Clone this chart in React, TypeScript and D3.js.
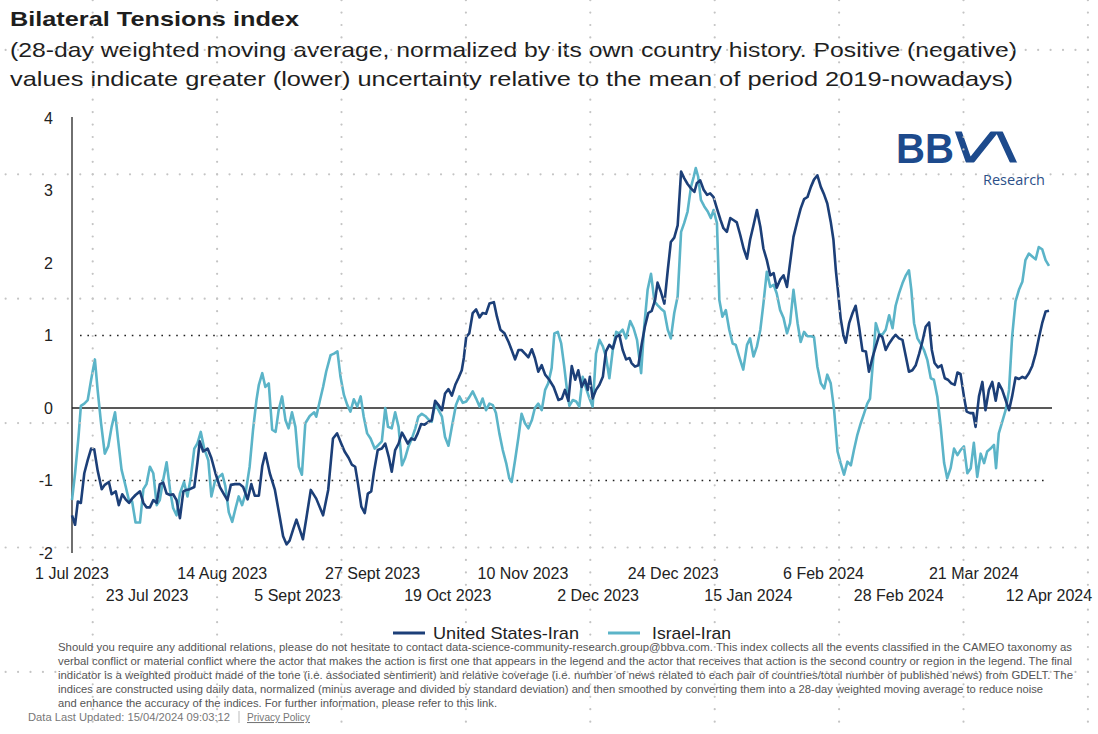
import React from "react";
import * as d3 from "d3";

// ---------- DATA (day offset from 1 Jul 2023, index value) ----------
const usIran: [number, number][] = [
  [0, -1.48], [0.9, -1.61], [1.7, -1.29], [2.6, -1.31], [3.6, -0.9], [4.6, -0.72], [5.6, -0.56], [6.5, -0.57],
  [7.5, -0.86], [8.7, -1.12], [9.6, -1.06], [10.8, -1.02], [11.6, -1.19], [12.8, -1.15], [13.7, -1.34], [14.7, -1.19],
  [15.7, -1.26], [16.7, -1.31], [17.6, -1.25], [18.6, -1.2], [19.9, -1.15], [20.9, -1.31], [21.8, -1.37], [22.8, -1.37],
  [23.8, -1.27], [24.8, -1.31], [25.7, -1.05], [26.7, -1.03], [27.7, -1.18], [28.7, -1.2], [29.6, -1.19], [30.6, -1.27],
  [31.6, -1.52], [32.6, -1.15], [33.5, -1.13], [34.5, -1.12], [35.8, -1.09], [36.7, -0.76], [37.4, -0.46], [38.4, -0.6],
  [39.7, -0.56], [40.8, -0.69], [42.0, -0.9], [43.3, -1.09], [44.5, -1.19], [45.5, -1.27], [46.5, -1.06], [47.7, -1.05],
  [49.1, -1.05], [50.1, -1.09], [51.4, -1.26], [52.5, -1.05], [53.5, -1.21], [54.7, -1.21], [55.7, -0.8], [56.6, -0.62],
  [57.9, -0.9], [59.4, -1.13], [60.8, -1.5], [61.8, -1.77], [62.8, -1.88], [63.7, -1.83], [64.7, -1.68], [65.7, -1.54],
  [66.7, -1.68], [67.6, -1.81], [68.6, -1.52], [69.9, -1.13], [71.5, -1.25], [73.5, -1.48], [75.0, -1.13], [76.4, -0.42],
  [77.6, -0.35], [78.8, -0.49], [79.8, -0.6], [81.0, -0.69], [81.9, -0.78], [82.9, -0.81], [83.7, -1.04], [84.7, -1.36],
  [85.7, -1.45], [86.6, -1.18], [87.6, -1.15], [88.4, -0.88], [89.5, -0.58], [90.7, -0.56], [91.7, -0.49], [92.7, -0.67],
  [93.6, -0.88], [94.6, -0.58], [95.6, -0.49], [96.6, -0.34], [97.3, -0.4], [98.3, -0.49], [99.3, -0.42], [100.3, -0.44],
  [101.2, -0.35], [102.2, -0.22], [103.2, -0.23], [104.4, -0.19], [105.3, -0.17], [106.3, 0.1], [107.3, 0.04], [108.3, -0.03],
  [109.2, 0.2], [110.2, 0.26], [111.2, 0.17], [112.2, 0.32], [113.1, 0.41], [114.1, 0.52], [114.7, 0.69], [115.4, 0.98],
  [116.3, 1.03], [117.3, 1.31], [118.3, 1.36], [119.3, 1.25], [120.2, 1.31], [121.2, 1.3], [122.2, 1.44], [123.5, 1.46],
  [124.4, 1.26], [125.4, 1.08], [126.6, 1.03], [127.8, 0.91], [128.7, 0.8], [129.7, 0.67], [130.7, 0.8], [131.6, 0.8],
  [132.6, 0.75], [133.6, 0.7], [134.6, 0.81], [135.5, 0.69], [136.5, 0.5], [137.5, 0.59], [138.5, 0.46], [139.7, 0.39],
  [141.0, 0.29], [142.4, 0.11], [143.4, 0.13], [144.3, 0.25], [145.3, 0.1], [146.3, 0.58], [147.3, 0.39], [148.2, 0.52],
  [149.2, 0.29], [150.2, 0.39], [151.0, 0.25], [151.6, 0.43], [152.4, 0.13], [153.4, 0.25], [154.4, 0.32], [155.4, 0.43],
  [156.3, 0.78], [157.3, 0.87], [158.3, 0.82], [159.3, 0.98], [160.2, 1.01], [161.2, 0.8], [162.2, 0.67], [163.2, 0.69],
  [163.8, 0.62], [164.8, 0.57], [165.8, 0.59], [166.8, 0.89], [167.7, 1.12], [168.7, 1.31], [169.7, 1.34], [170.7, 1.49],
  [171.4, 1.73], [172.4, 1.6], [173.4, 1.44], [174.4, 1.9], [175.3, 2.29], [176.3, 2.35], [177.3, 2.52], [178.3, 3.26],
  [179.2, 3.17], [180.2, 3.09], [181.2, 3.03], [182.2, 2.98], [182.9, 3.1], [183.9, 3.14], [184.9, 3.01], [185.9, 2.94],
  [186.8, 2.96], [187.8, 2.91], [188.8, 2.75], [189.8, 2.6], [190.7, 2.48], [191.7, 2.43], [192.7, 2.62], [193.7, 2.59],
  [194.6, 2.56], [195.6, 2.39], [196.6, 2.2], [197.6, 2.06], [198.5, 2.32], [199.5, 2.52], [200.5, 2.73], [201.5, 2.5],
  [202.4, 2.2], [203.4, 2.04], [204.4, 1.83], [205.4, 1.86], [206.3, 1.66], [207.3, 1.77], [208.3, 1.83], [209.3, 1.67],
  [210.2, 2.0], [211.2, 2.36], [212.4, 2.59], [213.3, 2.75], [214.3, 2.88], [215.3, 2.91], [216.3, 3.05], [217.2, 3.15],
  [218.2, 3.21], [219.2, 3.05], [220.2, 2.94], [221.1, 2.82], [222.1, 2.57], [222.9, 2.32], [223.6, 1.9], [224.3, 1.58],
  [225.0, 1.24], [225.8, 1.01], [226.5, 0.9], [227.5, 1.17], [228.5, 1.31], [229.4, 1.41], [230.4, 1.12], [231.4, 0.79],
  [232.4, 0.78], [233.3, 0.5], [234.3, 0.69], [235.3, 0.85], [236.3, 1.01], [237.2, 0.98], [238.2, 0.8], [239.2, 0.89],
  [240.2, 0.96], [241.1, 1.01], [242.1, 0.96], [243.1, 0.94], [244.1, 0.71], [245.0, 0.5], [246.0, 0.52], [247.0, 0.59],
  [248.0, 0.75], [248.9, 0.91], [249.9, 1.12], [250.9, 1.18], [251.7, 0.8], [252.5, 0.62], [253.5, 0.56], [254.5, 0.59],
  [255.5, 0.41], [256.4, 0.39], [257.4, 0.34], [258.4, 0.32], [259.2, 0.49], [260.1, 0.47], [261.1, 0.16], [261.9, -0.05],
  [262.9, -0.07], [263.8, -0.07], [264.5, -0.26], [265.5, 0.16], [266.5, 0.36], [267.4, -0.03], [268.4, 0.25], [269.4, 0.36],
  [270.4, 0.1], [271.3, 0.34], [272.3, 0.25], [273.3, 0.11], [274.3, -0.03], [275.2, 0.16], [276.2, 0.42], [277.2, 0.4],
  [278.2, 0.43], [279.1, 0.41], [280.1, 0.48], [281.1, 0.58], [282.1, 0.75], [283.0, 0.96], [284.0, 1.17], [285.0, 1.33],
  [286.0, 1.34],
];

const israelIran: [number, number][] = [
  [0, -1.27], [0.9, -0.9], [1.9, -0.4], [2.6, 0.03], [3.6, 0.06], [4.6, 0.11], [5.6, 0.39], [6.7, 0.67],
  [7.5, 0.25], [8.5, -0.21], [9.6, -0.63], [10.6, -0.53], [11.6, -0.26], [12.6, -0.06], [13.5, -0.44], [14.5, -0.85],
  [15.7, -1.08], [16.7, -1.28], [17.6, -1.29], [18.6, -1.58], [19.9, -1.58], [20.9, -1.12], [21.8, -1.05], [22.8, -0.81],
  [23.8, -0.9], [24.8, -1.34], [25.7, -1.27], [26.7, -0.99], [27.7, -0.75], [28.7, -1.13], [29.6, -1.38], [30.6, -1.48],
  [31.6, -1.18], [32.8, -1.02], [33.8, -1.22], [34.8, -0.95], [35.8, -0.56], [36.7, -0.49], [37.7, -0.33], [38.7, -0.56],
  [39.9, -0.72], [40.8, -1.22], [41.8, -1.02], [43.0, -0.95], [44.0, -0.91], [44.9, -1.08], [45.9, -1.44], [46.9, -1.57],
  [47.9, -1.38], [48.8, -1.22], [49.8, -1.34], [50.8, -1.18], [52.0, -0.81], [53.0, -0.3], [54.0, 0.11], [54.7, 0.32],
  [55.7, 0.48], [56.6, 0.29], [57.6, 0.34], [58.6, -0.3], [59.6, -0.33], [60.5, -0.03], [61.5, 0.16], [62.5, -0.17],
  [63.4, -0.28], [64.4, -0.06], [65.4, -0.26], [66.4, -0.81], [67.3, -0.92], [68.3, -0.21], [69.6, -0.11], [70.9, -0.06],
  [71.5, -0.12], [72.5, 0.09], [73.5, 0.29], [74.4, 0.5], [75.7, 0.73], [76.7, 0.75], [77.7, 0.78], [78.6, 0.43],
  [79.6, 0.18], [80.6, 0.04], [81.5, -0.05], [82.5, 0.12], [83.5, 0.02], [84.5, 0.16], [85.4, -0.12], [86.4, -0.35],
  [87.4, -0.42], [88.6, -0.56], [89.7, -0.51], [90.7, -0.46], [91.7, 0.0], [92.5, -0.26], [93.6, -0.28], [94.6, -0.06],
  [95.6, -0.26], [96.6, -0.79], [97.5, -0.69], [98.5, -0.53], [99.5, -0.42], [100.5, -0.28], [101.4, -0.12], [102.4, -0.08],
  [103.4, -0.11], [104.4, -0.16], [105.3, -0.19], [106.3, 0.06], [107.3, -0.03], [108.3, -0.12], [109.2, -0.4], [110.2, -0.52],
  [111.2, -0.26], [112.4, 0.04], [113.4, 0.16], [114.4, 0.07], [115.4, 0.09], [116.3, 0.15], [117.3, 0.23], [118.3, 0.13],
  [119.3, 0.02], [120.2, 0.13], [121.2, -0.03], [122.2, 0.06], [123.2, 0.04], [124.1, -0.07], [125.1, -0.35], [126.1, -0.58],
  [127.1, -0.76], [128.0, -0.97], [128.7, -1.02], [129.7, -0.72], [130.7, -0.4], [131.6, -0.08], [132.6, -0.21], [133.6, -0.28],
  [134.6, -0.17], [135.5, 0.0], [136.5, 0.06], [137.5, -0.03], [138.5, 0.25], [139.4, 0.34], [140.4, 0.55], [141.2, 1.03],
  [142.2, 1.05], [143.2, 0.89], [144.1, 0.57], [144.9, 0.25], [145.6, 0.03], [146.6, 0.11], [147.6, 0.09], [148.5, 0.02],
  [149.5, 0.43], [150.5, 0.27], [151.5, 0.13], [152.4, 0.02], [153.4, 0.75], [154.4, 0.94], [155.4, 0.85], [156.3, 0.71],
  [157.3, 0.41], [158.3, 0.8], [159.3, 1.05], [160.2, 1.03], [161.2, 1.08], [162.2, 0.96], [163.4, 1.2], [164.4, 1.1],
  [165.4, 0.94], [166.6, 0.48], [167.5, 1.12], [168.5, 1.63], [169.5, 1.85], [170.5, 1.47], [171.4, 1.42], [172.4, 1.37],
  [173.4, 1.33], [174.4, 1.08], [175.3, 0.96], [176.3, 1.31], [177.3, 1.54], [178.3, 2.43], [179.2, 2.55], [180.2, 2.71],
  [181.2, 3.05], [182.0, 3.19], [182.6, 3.31], [183.3, 3.19], [184.1, 2.87], [185.1, 2.78], [186.1, 2.71], [187.0, 2.62],
  [187.8, 2.73], [188.8, 2.55], [189.5, 1.49], [190.4, 1.26], [191.4, 1.35], [192.4, 1.08], [193.4, 0.89], [194.3, 0.87],
  [195.3, 0.71], [196.5, 0.53], [197.6, 0.87], [198.5, 0.96], [199.5, 0.71], [200.5, 0.85], [201.5, 1.08], [202.4, 1.44],
  [203.4, 1.88], [204.4, 1.67], [205.4, 1.7], [206.3, 1.58], [207.3, 1.35], [208.3, 1.24], [209.3, 1.03], [210.2, 1.17],
  [211.2, 1.63], [212.4, 1.17], [213.3, 0.91], [214.3, 1.05], [215.3, 0.99], [216.3, 0.99], [217.2, 0.98], [218.2, 0.57],
  [219.2, 0.34], [220.2, 0.27], [221.1, 0.46], [222.1, 0.34], [223.1, -0.03], [224.1, -0.6], [225.0, -0.76], [226.0, -0.92],
  [227.0, -0.74], [228.0, -0.79], [228.9, -0.58], [229.9, -0.37], [230.9, -0.21], [231.9, -0.07], [232.8, 0.06], [233.6, 0.13],
  [234.6, 0.71], [235.3, 1.17], [236.3, 1.02], [237.2, 1.01], [238.2, 1.08], [239.2, 1.28], [240.2, 1.1], [241.1, 1.41],
  [242.1, 1.58], [243.1, 1.72], [244.1, 1.83], [245.0, 1.9], [245.7, 1.63], [246.5, 1.17], [247.5, 0.96], [248.4, 0.89],
  [249.4, 0.8], [250.4, 0.66], [251.4, 0.41], [252.3, 0.39], [253.3, 0.16], [254.3, -0.26], [255.3, -0.76], [256.2, -0.97],
  [257.2, -0.83], [258.2, -0.56], [259.2, -0.65], [260.1, -0.58], [261.1, -0.53], [262.1, -0.9], [263.1, -0.83], [264.0, -0.48],
  [265.0, -0.95], [266.0, -0.63], [267.0, -0.76], [267.9, -0.6], [268.9, -0.56], [269.9, -0.51], [270.5, -0.83], [271.3, -0.35],
  [272.3, -0.19], [273.3, -0.03], [274.3, 0.25], [275.2, 0.98], [276.2, 1.47], [277.2, 1.63], [278.2, 1.74], [279.1, 2.04],
  [280.1, 2.13], [281.1, 2.09], [282.1, 2.05], [283.0, 2.22], [284.0, 2.19], [285.0, 2.04], [286.0, 1.96],
];

const yTicks = [-2, -1, 0, 1, 2, 3, 4];
const tickDays = [0, 22, 44, 66, 88, 110, 132, 154, 176, 198, 220, 242, 264, 286];
const tickLabels = [
  "1 Jul 2023", "23 Jul 2023", "14 Aug 2023", "5 Sept 2023", "27 Sept 2023", "19 Oct 2023", "10 Nov 2023",
  "2 Dec 2023", "24 Dec 2023", "15 Jan 2024", "6 Feb 2024", "28 Feb 2024", "21 Mar 2024", "12 Apr 2024",
];
const seriesNames = ["United States-Iran", "Israel-Iran"];

const titleText = "Bilateral Tensions index";
const subtitleLines = [
  "(28-day weighted moving average, normalized by its own country history. Positive (negative)",
  "values indicate greater (lower) uncertainty relative to the mean of period 2019-nowadays)",
];
const footLines = [
  "Should you require any additional relations, please do not hesitate to contact data-science-community-research.group@bbva.com. This index collects all the events classified in the CAMEO taxonomy as",
  "verbal conflict or material conflict where the actor that makes the action is first one that appears in the legend and the actor that receives that action is the second country or region in the legend. The final",
  "indicator is a weighted product made of the tone (i.e. associated sentiment) and relative coverage (i.e. number of news related to each pair of countries/total number of published news) from GDELT. The",
  "indices are constructed using daily data, normalized (minus average and divided by standard deviation) and then smoothed by converting them into a 28-day weighted moving average to reduce noise",
  "and enhance the accuracy of the indices. For further information, please refer to this link.",
];
const footWidths = [1014, 1014, 1015, 985, 439];

// ---------- STYLE ----------
const W = 1098;
const H = 734;
const FONT = "'Liberation Sans', Arial, sans-serif";
const DARK = "#1c3f78";
const LIGHT = "#5bb4c8";
const LOGO = "#1d4a8c";
const START = new Date(2023, 6, 1);
const dayToDate = (d: number) => new Date(START.getTime() + d * 864e5);

export default function App() {
  const x = d3.scaleTime().domain([START, dayToDate(286)]).range([72, 1049]);
  const y = d3.scaleLinear().domain([-2, 4]).range([553, 118]);
  const line = d3
    .line<[number, number]>()
    .x((d) => x(dayToDate(d[0])))
    .y((d) => y(d[1]));

  // decorative dotted background grid
  const gridStep = 124.4;
  const dotStep = gridStep / 10;
  const gx0 = 92.7;
  const gy0 = 49.9;
  const dots: { cx: number; cy: number }[] = [];
  for (let k = 0; k < 6; k++) {
    const gy = gy0 + k * gridStep;
    for (let cx = gx0 - 7 * dotStep; cx < W; cx += dotStep) dots.push({ cx, cy: gy });
  }
  for (let k = 0; k < 9; k++) {
    const gx = gx0 + k * gridStep;
    for (let cy = gy0 - 4 * dotStep; cy < H; cy += dotStep) dots.push({ cx: gx, cy });
  }

  return (
    <svg
      width={W}
      height={H}
      style={{ position: "absolute", left: 0, top: 0, background: "#fff" }}
      fontFamily={FONT}
    >
      <defs>
        <clipPath id="logoClip">
          <rect x={940} y={131.5} width={90} height={31} />
        </clipPath>
      </defs>
      <rect width={W} height={H} fill="#fff" />

      {/* Title */}
      <text x={10} y={26} fontSize={21} fontWeight={700} fill="#1e1e1e" textLength={289} lengthAdjust="spacingAndGlyphs">
        {titleText}
      </text>
      {subtitleLines.map((t, i) => (
        <text key={i} x={10} y={57 + i * 28.5} fontSize={21} fill="#1e1e1e" textLength={i === 0 ? 1007 : 1003} lengthAdjust="spacingAndGlyphs">
          {t}
        </text>
      ))}

      {/* Logo */}
      <text x={896} y={162.5} fontSize={43} fontWeight={700} fill={LOGO} textLength={58} lengthAdjust="spacingAndGlyphs">
        BB
      </text>
      <polyline
        points="955,122 969.5,163 997.5,128 1016,168"
        fill="none"
        stroke={LOGO}
        strokeWidth={6.5}
        strokeLinejoin="miter"
        strokeMiterlimit={10}
        clipPath="url(#logoClip)"
      />
      <text x={983} y={185} fontSize={14.5} fill="#2c4f88" fontFamily="'Open Sans', sans-serif">
        Research
      </text>

      {/* Reference lines */}
      <line x1={80} x2={1047} y1={y(1)} y2={y(1)} stroke="#222" strokeWidth={1.6} strokeDasharray="1.6 5.8" />
      <line x1={80} x2={1047} y1={y(-1)} y2={y(-1)} stroke="#222" strokeWidth={1.6} strokeDasharray="1.6 5.8" />
      <line x1={72} x2={1052} y1={y(0)} y2={y(0)} stroke="#222" strokeWidth={1.3} />

      {/* Y axis */}
      <line x1={72} x2={72} y1={117} y2={553} stroke="#222" strokeWidth={1.3} />
      {yTicks.map((t) => (
        <text key={t} x={53} y={y(t) + 5.5} fontSize={16} textAnchor="end" fill="#222">
          {t}
        </text>
      ))}

      {/* X tick labels */}
      {tickDays.map((d, i) => (
        <text key={d} x={x(dayToDate(d))} y={i % 2 === 0 ? 579 : 601} fontSize={16} textAnchor="middle" fill="#222">
          {tickLabels[i]}
        </text>
      ))}

      {/* Series */}
      <path d={line(israelIran) || ""} fill="none" stroke={LIGHT} strokeWidth={2.6} strokeLinejoin="round" />
      <path d={line(usIran) || ""} fill="none" stroke={DARK} strokeWidth={2.6} strokeLinejoin="round" />

      {/* Background dot grid (watermark) */}
      <g fill="#c4c4c4">
        {dots.map((p, i) => (
          <circle key={i} cx={p.cx} cy={p.cy} r={1.1} />
        ))}
      </g>

      {/* Legend */}
      <line x1={393} x2={425} y1={633} y2={633} stroke={DARK} strokeWidth={3} />
      <text x={433} y={639} fontSize={17} fill="#222" textLength={146} lengthAdjust="spacingAndGlyphs">
        {seriesNames[0]}
      </text>
      <line x1={608} x2={640} y1={633} y2={633} stroke={LIGHT} strokeWidth={3} />
      <text x={652} y={639} fontSize={17} fill="#222" textLength={79} lengthAdjust="spacingAndGlyphs">
        {seriesNames[1]}
      </text>

      {/* Footnote */}
      {footLines.map((t, i) => (
        <text key={i} x={58} y={651 + i * 14} fontSize={11.5} fill="#555" textLength={footWidths[i]} lengthAdjust="spacingAndGlyphs">
          {t}
        </text>
      ))}
      <text x={28} y={721} fontSize={10.5} fill="#777" textLength={202} lengthAdjust="spacingAndGlyphs">
        Data Last Updated: 15/04/2024 09:03:12
      </text>
      <line x1={239} x2={239} y1={711} y2={723} stroke="#bbb" strokeWidth={1} />
      <text x={247} y={721} fontSize={10.5} fill="#777" textDecoration="underline" textLength={63} lengthAdjust="spacingAndGlyphs">
        Privacy Policy
      </text>
    </svg>
  );
}
